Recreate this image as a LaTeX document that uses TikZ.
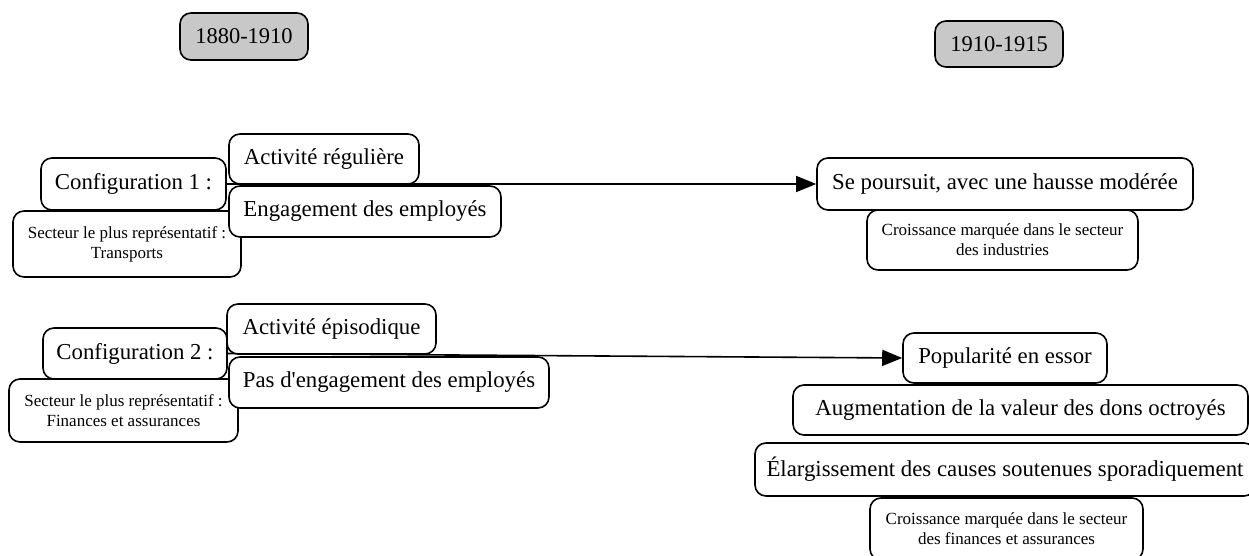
\documentclass[tikz,border=0pt]{standalone}
\usepackage{fontspec}
\setmainfont{Liberation Serif}[Ligatures=TeXOff]
\usetikzlibrary{arrows.meta}
\definecolor{yeargray}{HTML}{C8C8C8}
\tikzset{
  box/.style={draw=black, line width=1.6pt, rounded corners=11pt, fill=white, inner sep=0pt, align=center},
  big/.style={box, font=\fontsize{22.8}{26}\selectfont},
  small/.style={box, font=\fontsize{17}{20}\selectfont},
  year/.style={box, fill=yeargray, font=\fontsize{22.5}{26}\selectfont},
  conn/.style={line width=1.6pt, -{Triangle[length=20pt,width=16pt]}}
}
\begin{document}
\begin{tikzpicture}[x=1pt,y=-1pt]
\useasboundingbox (0,0) rectangle (1249,556);
% years
\node[year, minimum width=128pt, minimum height=47pt] (y1) at (244,36.5) {1880-1910};
\node[year, minimum width=128pt, minimum height=46pt] (y2) at (999,44) {1910-1915};
% configuration 1
\node[big, minimum width=185pt, minimum height=52pt] (c1) at (133.5,184) {Configuration 1 :};
\node[big, minimum width=376pt, minimum height=52pt] (se) at (1005,184) {Se poursuit, avec une hausse modérée};
\draw[conn] (c1.east) -- (se.west);
\node[small, minimum width=228pt, minimum height=66pt] (s1) at (127,244) {Secteur le plus représentatif :\\Transports};
\node[big, minimum width=190pt, minimum height=50pt] (a1) at (324,159) {Activité régulière};
\node[big, minimum width=272pt, minimum height=51pt] (e1) at (365,211.5) {Engagement des employés};
\node[small, minimum width=271pt, minimum height=60pt] (i1) at (1002.5,240) {Croissance marquée dans le secteur\\des industries};
% configuration 2
\node[big, minimum width=184pt, minimum height=51pt] (c2) at (135,353.5) {Configuration 2 :};
\node[big, minimum width=204pt, minimum height=50pt] (po) at (1005,358) {Popularité en essor};
\draw[conn] (c2.east) -- (po.west);
\node[small, minimum width=229pt, minimum height=63pt] (s2) at (123.5,410.5) {Secteur le plus représentatif :\\Finances et assurances};
\node[big, minimum width=209pt, minimum height=50pt] (a2) at (331.5,329) {Activité épisodique};
\node[big, minimum width=320pt, minimum height=51pt] (e2) at (389,382.5) {Pas d'engagement des employés};
\node[big, minimum width=455pt, minimum height=50pt] (au) at (1020.5,410) {Augmentation de la valeur des dons octroyés};
\node[big, minimum width=500pt, minimum height=53pt] (el) at (1005,469.5) {Élargissement des causes soutenues sporadiquement};
\node[small, minimum width=273pt, minimum height=62pt] (f2) at (1006.5,529) {Croissance marquée dans le secteur\\des finances et assurances};
\end{tikzpicture}
\end{document}
